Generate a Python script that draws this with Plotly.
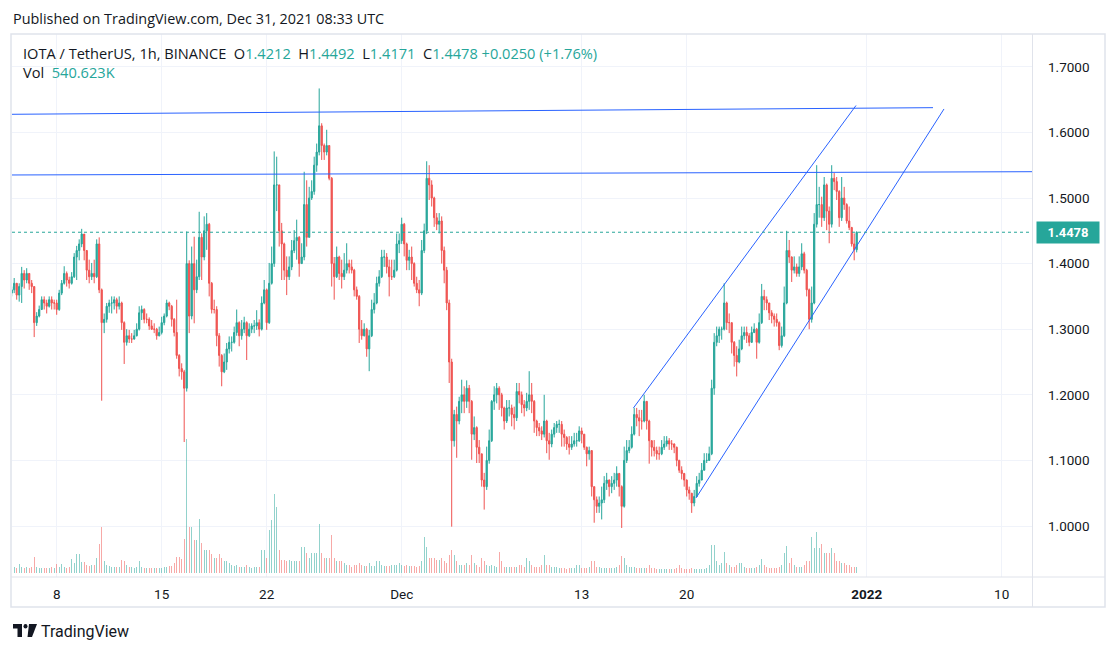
import plotly.graph_objects as go
import pandas as pd

# ---------------- data (4-hour bars) ----------------
start_time = "2021-11-05 00:00"
first_open = 1.355

close = [
1.360,1.370,1.352,1.365,1.385,1.375,1.385,1.370,1.365,1.310,
1.320,1.330,1.345,1.340,1.335,1.345,1.340,1.340,1.330,1.355,
1.370,1.385,1.375,1.370,1.380,1.410,1.420,1.430,1.445,1.420,
1.390,1.380,1.385,1.380,1.430,1.360,1.310,1.315,1.335,1.340,
1.340,1.345,1.335,1.340,1.310,1.280,1.290,1.285,1.285,1.290,
1.300,1.325,1.330,1.315,1.315,1.305,1.300,1.300,1.290,1.295,
1.310,1.320,1.340,1.335,1.315,1.295,1.260,1.240,1.235,1.210,
1.400,1.320,1.400,1.360,1.380,1.440,1.410,1.450,1.460,1.370,
1.330,1.330,1.290,1.260,1.235,1.250,1.270,1.280,1.280,1.295,
1.310,1.290,1.300,1.310,1.290,1.300,1.305,1.305,1.310,1.300,
1.340,1.360,1.310,1.370,1.400,1.520,1.520,1.450,1.430,1.390,
1.380,1.395,1.420,1.435,1.440,1.400,1.410,1.490,1.440,1.500,
1.510,1.550,1.570,1.610,1.580,1.570,1.580,1.530,1.400,1.380,
1.410,1.385,1.380,1.390,1.400,1.395,1.390,1.360,1.350,1.300,
1.290,1.300,1.270,1.290,1.330,1.340,1.370,1.380,1.410,1.410,
1.395,1.380,1.380,1.390,1.430,1.435,1.460,1.430,1.405,1.410,
1.400,1.370,1.360,1.355,1.420,1.450,1.530,1.520,1.500,1.470,
1.460,1.465,1.420,1.390,1.340,1.250,1.130,1.170,1.160,1.190,
1.200,1.190,1.210,1.190,1.140,1.150,1.120,1.110,1.070,1.060,
1.100,1.130,1.190,1.200,1.210,1.200,1.180,1.160,1.180,1.180,
1.170,1.165,1.205,1.200,1.185,1.180,1.190,1.200,1.190,1.160,
1.150,1.145,1.140,1.160,1.130,1.125,1.140,1.150,1.155,1.155,
1.140,1.135,1.125,1.120,1.125,1.130,1.130,1.145,1.140,1.120,
1.110,1.115,1.060,1.040,1.030,1.035,1.040,1.065,1.070,1.060,
1.065,1.070,1.080,1.060,1.030,1.100,1.115,1.120,1.140,1.170,
1.165,1.160,1.160,1.190,1.160,1.130,1.120,1.115,1.110,1.110,
1.120,1.125,1.130,1.125,1.125,1.120,1.100,1.085,1.080,1.070,
1.055,1.050,1.035,1.045,1.065,1.070,1.085,1.100,1.100,1.110,
1.210,1.280,1.290,1.300,1.300,1.340,1.310,1.310,1.280,1.260,
1.250,1.270,1.290,1.295,1.290,1.280,1.295,1.300,1.280,1.310,
1.350,1.345,1.340,1.325,1.320,1.315,1.310,1.275,1.290,1.340,
1.420,1.410,1.390,1.395,1.385,1.395,1.415,1.390,1.360,1.315,
1.340,1.460,1.490,1.490,1.470,1.520,1.480,1.460,1.530,1.525,
1.510,1.470,1.500,1.490,1.465,1.455,1.430,1.4212,1.4478]

high = [
1.365,1.378,1.365,1.370,1.395,1.390,1.393,1.385,1.375,1.365,
1.326,1.336,1.350,1.350,1.345,1.350,1.350,1.345,1.345,1.360,
1.375,1.396,1.388,1.380,1.387,1.416,1.427,1.437,1.453,1.442,
1.412,1.406,1.401,1.406,1.437,1.440,1.362,1.324,1.340,1.345,
1.350,1.350,1.348,1.350,1.342,1.312,1.300,1.299,1.294,1.299,
1.309,1.335,1.336,1.332,1.324,1.318,1.314,1.309,1.302,1.304,
1.319,1.324,1.345,1.342,1.337,1.317,1.345,1.262,1.248,1.238,
1.449,1.405,1.426,1.441,1.406,1.479,1.446,1.472,1.477,1.462,
1.372,1.345,1.335,1.294,1.262,1.263,1.279,1.289,1.289,1.304,
1.330,1.312,1.314,1.319,1.312,1.309,1.309,1.314,1.329,1.315,
1.350,1.375,1.362,1.401,1.426,1.571,1.563,1.520,1.462,1.432,
1.411,1.411,1.436,1.451,1.467,1.442,1.431,1.540,1.527,1.517,
1.527,1.563,1.583,1.667,1.614,1.583,1.604,1.580,1.532,1.410,
1.426,1.412,1.406,1.416,1.431,1.406,1.406,1.392,1.365,1.352,
1.314,1.309,1.302,1.299,1.345,1.355,1.380,1.390,1.421,1.421,
1.416,1.406,1.406,1.406,1.446,1.446,1.470,1.462,1.432,1.421,
1.426,1.402,1.380,1.375,1.436,1.461,1.556,1.550,1.527,1.502,
1.477,1.477,1.472,1.426,1.395,1.345,1.255,1.177,1.182,1.197,
1.223,1.213,1.222,1.215,1.192,1.167,1.152,1.131,1.110,1.081,
1.121,1.147,1.192,1.213,1.218,1.213,1.203,1.182,1.192,1.192,
1.185,1.182,1.218,1.218,1.205,1.192,1.203,1.236,1.218,1.192,
1.162,1.157,1.152,1.200,1.162,1.142,1.147,1.157,1.160,1.162,
1.160,1.147,1.137,1.137,1.137,1.142,1.142,1.152,1.150,1.140,
1.121,1.121,1.115,1.060,1.045,1.045,1.060,1.076,1.081,1.071,
1.076,1.081,1.091,1.081,1.062,1.121,1.131,1.131,1.152,1.180,
1.180,1.177,1.177,1.200,1.190,1.162,1.131,1.131,1.121,1.121,
1.131,1.137,1.137,1.134,1.131,1.126,1.121,1.101,1.091,1.081,
1.071,1.060,1.050,1.055,1.076,1.081,1.096,1.111,1.111,1.121,
1.223,1.294,1.304,1.304,1.304,1.370,1.342,1.324,1.310,1.282,
1.274,1.284,1.304,1.304,1.304,1.294,1.304,1.309,1.302,1.324,
1.369,1.360,1.350,1.340,1.329,1.324,1.324,1.312,1.304,1.365,
1.450,1.436,1.411,1.411,1.400,1.411,1.431,1.418,1.392,1.362,
1.365,1.477,1.550,1.517,1.502,1.532,1.522,1.487,1.550,1.538,
1.532,1.512,1.532,1.517,1.492,1.487,1.456,1.446,1.4492]

low = [
1.350,1.355,1.345,1.342,1.340,1.362,1.370,1.360,1.355,1.288,
1.305,1.318,1.330,1.330,1.324,1.333,1.330,1.330,1.322,1.328,
1.352,1.368,1.365,1.362,1.368,1.378,1.375,1.405,1.425,1.405,
1.375,1.370,1.375,1.370,1.378,1.355,1.191,1.294,1.310,1.325,
1.324,1.330,1.324,1.330,1.299,1.247,1.275,1.279,1.279,1.284,
1.289,1.298,1.314,1.309,1.309,1.299,1.299,1.294,1.284,1.289,
1.292,1.306,1.318,1.329,1.304,1.289,1.255,1.228,1.223,1.128,
1.205,1.294,1.315,1.309,1.355,1.375,1.375,1.405,1.421,1.350,
1.324,1.324,1.274,1.243,1.213,1.233,1.238,1.263,1.266,1.278,
1.290,1.274,1.284,1.294,1.253,1.288,1.294,1.294,1.299,1.289,
1.298,1.338,1.299,1.308,1.368,1.395,1.480,1.426,1.375,1.375,
1.352,1.375,1.390,1.416,1.406,1.380,1.400,1.405,1.426,1.440,
1.497,1.505,1.540,1.565,1.558,1.558,1.565,1.527,1.365,1.345,
1.378,1.375,1.362,1.375,1.385,1.385,1.385,1.350,1.345,1.279,
1.284,1.289,1.258,1.236,1.288,1.324,1.338,1.365,1.378,1.395,
1.385,1.350,1.375,1.378,1.388,1.416,1.430,1.411,1.390,1.390,
1.375,1.365,1.355,1.335,1.352,1.416,1.445,1.497,1.487,1.456,
1.451,1.446,1.400,1.370,1.329,1.218,0.999,1.121,1.104,1.155,
1.172,1.172,1.180,1.172,1.101,1.131,1.096,1.096,1.060,1.025,
1.055,1.095,1.128,1.177,1.187,1.177,1.167,1.147,1.157,1.167,
1.152,1.147,1.160,1.187,1.172,1.167,1.175,1.177,1.172,1.142,
1.137,1.137,1.131,1.135,1.111,1.101,1.120,1.135,1.142,1.142,
1.121,1.121,1.116,1.109,1.116,1.121,1.121,1.128,1.126,1.116,
1.091,1.101,1.045,1.005,1.020,1.020,1.010,1.035,1.055,1.045,
1.050,1.055,1.060,1.045,0.997,1.028,1.096,1.111,1.118,1.138,
1.152,1.137,1.147,1.158,1.147,1.095,1.106,1.106,1.101,1.101,
1.108,1.116,1.121,1.116,1.116,1.111,1.091,1.081,1.071,1.060,
1.045,1.040,1.020,1.030,1.045,1.060,1.071,1.091,1.096,1.101,
1.108,1.200,1.274,1.279,1.284,1.298,1.299,1.294,1.263,1.243,
1.228,1.248,1.268,1.284,1.279,1.274,1.279,1.294,1.255,1.278,
1.308,1.329,1.329,1.314,1.309,1.304,1.304,1.268,1.272,1.288,
1.338,1.401,1.372,1.385,1.380,1.380,1.390,1.385,1.350,1.300,
1.310,1.338,1.455,1.470,1.456,1.465,1.451,1.431,1.455,1.512,
1.497,1.456,1.465,1.482,1.461,1.451,1.426,1.405,1.4171]

# volume, in units of 100K
volume = [
5,6,5,9,6,5,6,5,6,16,
6,5,5,5,5,5,6,5,9,6,
9,6,5,6,14,10,19,19,11,11,
8,7,8,8,15,29,46,12,8,7,
6,6,6,6,13,12,8,6,6,5,
6,12,6,5,5,5,5,5,5,5,
5,6,6,7,7,10,16,16,14,34,
134,46,46,33,33,54,30,23,23,23,
19,15,15,19,15,12,12,10,8,7,
8,6,6,6,8,6,5,6,6,6,
23,23,15,43,53,79,66,23,13,13,
12,13,12,12,12,12,26,26,20,15,
20,20,20,49,20,15,15,15,38,15,
12,12,12,10,8,8,6,8,8,10,
8,7,7,10,7,7,12,12,8,7,
7,7,8,8,8,10,8,7,8,7,
7,7,6,7,12,36,26,15,15,15,
13,13,15,12,10,18,23,18,12,8,
8,8,10,8,18,10,8,6,15,12,
8,7,8,7,6,21,12,6,6,6,
6,6,6,8,8,6,15,12,8,6,
6,6,8,18,8,8,6,6,6,5,
5,5,4,5,5,5,8,8,5,5,
5,6,12,12,6,6,5,5,5,5,
5,5,6,8,17,15,8,6,6,6,
5,5,5,5,5,8,5,5,4,4,
4,4,4,4,4,4,5,8,5,4,
4,4,5,4,4,4,4,4,5,8,
28,28,12,8,10,21,10,8,6,6,
8,10,10,6,5,5,5,5,6,8,
14,8,6,5,5,5,5,6,8,20,
27,10,15,8,6,6,6,8,12,12,
36,25,41,25,29,20,20,20,25,20,
12,12,10,10,8,8,6,6,6]

# drawn trend lines: (time, price) endpoints
hline1_t = ["2021-11-05 00:29", "2022-01-05 10:05"]
hline1_p = [1.6276, 1.6377]
hline2_t = ["2021-11-05 00:29", "2022-01-12 00:29"]
hline2_p = [1.5351, 1.5401]
chan_up_t = ["2021-12-16 10:44", "2021-12-31 06:53"]
chan_up_p = [1.1799, 1.6410]
chan_lo_t = ["2021-12-20 14:53", "2022-01-06 03:40"]
chan_lo_p = [1.0427, 1.6357]

last_price = 1.4478
legend_o, legend_h, legend_l, legend_c = "1.4212", "1.4492", "1.4171", "1.4478"
legend_chg = "+0.0250 (+1.76%)"
legend_vol = "540.623K"

price_ticks = [1.0, 1.1, 1.2, 1.3, 1.4, 1.5, 1.6, 1.7]
time_ticks = ["2021-11-08", "2021-11-15", "2021-11-22", "2021-12-01",
              "2021-12-13", "2021-12-20", "2022-01-01", "2022-01-10"]
time_labels = ["8", "15", "22", "Dec", "13", "20", "<b>2022</b>", "10"]

# ---------------- build ----------------
UP, DOWN = "#26a69a", "#ef5350"
UP_V, DOWN_V = "rgba(38,166,154,0.5)", "rgba(239,83,80,0.5)"
TXT = "#131722"
FONT = "Roboto, Liberation Sans, sans-serif"
FONT_HDR = "Open Sans, Roboto, sans-serif"

times = pd.date_range(start_time, periods=len(close), freq="4h")
opens = [first_open] + close[:-1]
vcolors = [UP_V if c >= o else DOWN_V for o, c in zip(opens, close)]

W, H = 1116, 652
L_, R_, T_, B_ = 12, 1032, 34, 577


def px(x):
    return (x - L_) / (R_ - L_)


def py(y):
    return (B_ - y) / (B_ - T_)


fig = go.Figure()
fig.add_trace(go.Bar(x=times, y=volume, marker=dict(color=vcolors, line=dict(width=0)),
                     width=4 * 3600 * 1000 * 0.55, yaxis="y", hoverinfo="skip"))
fig.add_trace(go.Candlestick(
    x=times, open=opens, high=high, low=low, close=close, yaxis="y2",
    increasing=dict(line=dict(color=UP, width=1), fillcolor=UP),
    decreasing=dict(line=dict(color=DOWN, width=1), fillcolor=DOWN),
    hoverinfo="skip"))
for tt, pp in [(hline1_t, hline1_p), (hline2_t, hline2_p),
               (chan_up_t, chan_up_p), (chan_lo_t, chan_lo_p)]:
    fig.add_trace(go.Scatter(x=pd.to_datetime(tt), y=pp, mode="lines", yaxis="y2",
                             line=dict(color="#2962ff", width=1), hoverinfo="skip"))

shapes = [
    dict(type="line", xref="paper", yref="y2", x0=0, x1=1, y0=last_price, y1=last_price,
         line=dict(color=UP, width=1, dash="dot")),
    # frame
    dict(type="rect", xref="paper", yref="paper", x0=px(11), x1=px(1105), y0=py(34), y1=py(607),
         line=dict(color="#e0e3eb", width=1.5)),
    dict(type="line", xref="paper", yref="paper", x0=px(1032.5), x1=px(1032.5), y0=py(34), y1=py(607),
         line=dict(color="#e0e3eb", width=1)),
    dict(type="line", xref="paper", yref="paper", x0=px(11), x1=px(1105), y0=py(577), y1=py(577),
         line=dict(color="#e0e3eb", width=1)),
    # TradingView logo
    dict(type="rect", xref="paper", yref="paper", x0=px(13), x1=px(22), y0=py(624), y1=py(628.5),
         fillcolor=TXT, line=dict(width=0)),
    dict(type="rect", xref="paper", yref="paper", x0=px(17.5), x1=px(22), y0=py(624), y1=py(637),
         fillcolor=TXT, line=dict(width=0)),
    dict(type="circle", xref="paper", yref="paper", x0=px(23.5), x1=px(27.5), y0=py(624), y1=py(628.5),
         fillcolor=TXT, line=dict(width=0)),
    dict(type="path", xref="paper", yref="paper",
         path=f"M {px(29)},{py(624)} L {px(37)},{py(624)} L {px(32)},{py(637)} L {px(27.5)},{py(637)} Z",
         fillcolor=TXT, line=dict(width=0)),
]

g = lambda s: f"<span style='color:{UP}'>{s}</span>"
SP = "&nbsp;&nbsp;"
annotations = [
    dict(xref="paper", yref="paper", x=px(11), y=py(19), xanchor="left", yanchor="middle",
         text="Published on TradingView.com, Dec 31, 2021 08:33 UTC", showarrow=False,
         font=dict(size=14.4, color=TXT, family=FONT_HDR)),
    dict(xref="paper", yref="paper", x=px(21), y=py(53), xanchor="left", yanchor="middle",
         text=("IOTA / TetherUS, 1h, BINANCE" + SP + "O" + g(legend_o) + SP + "H" + g(legend_h)
               + SP + "L" + g(legend_l) + SP + "C" + g(legend_c) + "&nbsp;" + g(legend_chg)),
         showarrow=False, font=dict(size=14.6, color=TXT, family=FONT_HDR)),
    dict(xref="paper", yref="paper", x=px(21), y=py(72), xanchor="left", yanchor="middle",
         text="Vol&nbsp;&nbsp;" + g(legend_vol), showarrow=False,
         font=dict(size=14.6, color=TXT, family=FONT_HDR)),
    dict(xref="paper", yref="y2", x=px(1036), y=last_price, xanchor="left", yanchor="middle",
         text=f"<b>{last_price:.4f}</b>", showarrow=False, bgcolor=UP, borderpad=3,
         width=56, font=dict(size=13, color="white", family=FONT)),
    dict(xref="paper", yref="paper", x=px(39), y=py(631), xanchor="left", yanchor="middle",
         text="TradingView", showarrow=False, font=dict(size=16, color=TXT, family=FONT)),
]

fig.update_layout(
    width=W, height=H, showlegend=False,
    margin=dict(l=L_, r=W - R_, t=T_, b=H - B_, pad=0),
    paper_bgcolor="white", plot_bgcolor="white",
    font=dict(family=FONT, color=TXT, size=13),
    xaxis=dict(type="date", range=["2021-11-05 00:29", "2022-01-12 00:29"],
               tickvals=pd.to_datetime(time_ticks), ticktext=time_labels,
               showgrid=True, gridcolor="#f0f3fa", gridwidth=1, zeroline=False, showline=False,
               ticks="", ticklabelstandoff=7, tickfont=dict(size=13.5, color=TXT),
               rangeslider=dict(visible=False), fixedrange=True),
    yaxis=dict(range=[-4, 539], visible=False, fixedrange=True),
    yaxis2=dict(overlaying="y", side="right", range=[0.92226, 1.75],
                tickvals=price_ticks, ticktext=[f"{v:.4f}" for v in price_ticks],
                showgrid=True, gridcolor="#f0f3fa", gridwidth=1, zeroline=False, showline=False,
                ticks="", ticklabelstandoff=15, tickfont=dict(size=13.5, color=TXT), fixedrange=True),
    shapes=shapes, annotations=annotations, bargap=0,
)

fig.write_html("out.html", config={"displayModeBar": False},
               post_script="document.body.style.margin='0px';document.body.style.padding='0px';")
